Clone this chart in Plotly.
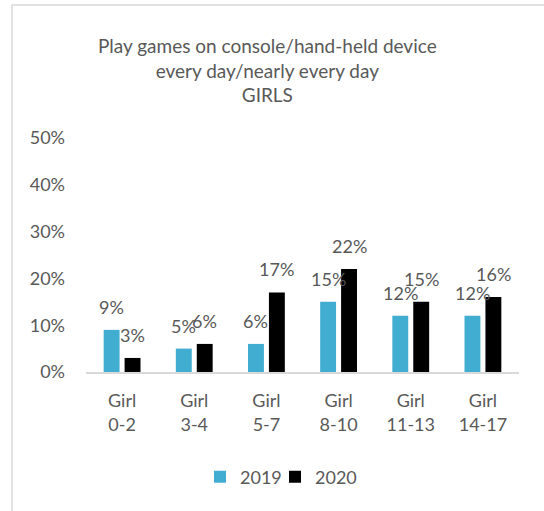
import plotly.graph_objects as go

# Daily/near-daily console gaming among girls, by age band
categories = ["Girl<br>0-2", "Girl<br>3-4", "Girl<br>5-7", "Girl<br>8-10", "Girl<br>11-13", "Girl<br>14-17"]
series_names = ["2019", "2020"]
values_2019 = [9, 5, 6, 15, 12, 12]
values_2020 = [3, 6, 17, 22, 15, 16]
y_ticks = [0, 10, 20, 30, 40, 50]
y_tick_labels = ["0%", "10%", "20%", "30%", "40%", "50%"]

W, H = 544, 511
ML, MR, MT, MB = 86, 25, 138, 139
PW, PH = W - ML - MR, H - MT - MB

FONT = "Lato, Carlito, Calibri, sans-serif"
GREY = "#595959"
colors = ["#41ADD0", "#000000"]
legend_ids = ["legend", "legend2"]
legend_left_px = [200, 275]

fig = go.Figure()
for name, vals, col, lg in zip(series_names, [values_2019, values_2020], colors, legend_ids):
    fig.add_trace(go.Bar(name=name, x=categories, y=vals, legend=lg,
                         marker=dict(color=col, line=dict(width=0))))

# value labels floating above each bar
bar_offset = 21
annotations = []
for i, vals in enumerate([values_2019, values_2020]):
    for c, v in zip(categories, vals):
        annotations.append(dict(
            x=c, y=v, xref="x", yref="y", text=f"{v}%", showarrow=False,
            xshift=(i - 0.5) * bar_offset, yshift=23, yanchor="middle",
            font=dict(family=FONT, size=18, color=GREY),
        ))

# three-line chart title, centred over the chart
annotations.append(dict(
    x=(267 - ML) / PW, y=((H - 70) - MB) / PH, xref="paper", yref="paper",
    xanchor="center", yanchor="middle", showarrow=False,
    text="Play games on console/hand-held device<br>every day/nearly every day<br>GIRLS",
    font=dict(family=FONT, size=19, color=GREY),
))

legend_style = dict(orientation="h", xanchor="left",
                    y=-(477 - (H - MB)) / PH, yanchor="middle",
                    font=dict(family=FONT, size=18, color=GREY),
                    itemsizing="constant", bgcolor="rgba(0,0,0,0)")

fig.update_layout(
    width=W, height=H,
    margin=dict(l=ML, r=MR, t=MT, b=MB, pad=0),
    paper_bgcolor="white", plot_bgcolor="white",
    barmode="group", bargap=0.42, bargroupgap=0.24,
    font=dict(family=FONT, size=18, color=GREY),
    showlegend=True,
    legend=dict(x=(legend_left_px[0] - ML) / PW, **legend_style),
    legend2=dict(x=(legend_left_px[1] - ML) / PW, **legend_style),
    annotations=annotations,
    xaxis=dict(showline=True, linecolor="#D9D9D9", linewidth=1.5, ticks="",
               tickfont=dict(family=FONT, size=18, color=GREY), ticklabelstandoff=12,
               fixedrange=True),
    yaxis=dict(range=[0, 50], tickmode="array", tickvals=y_ticks, ticktext=y_tick_labels,
               showgrid=False, zeroline=False, showline=False, ticks="",
               tickfont=dict(family=FONT, size=18, color=GREY), ticklabelstandoff=20,
               fixedrange=True),
    shapes=[dict(type="rect", xref="paper", yref="paper",
                 x0=(12 - ML) / PW, x1=(W + 5 - ML) / PW,
                 y0=-(H + 5 - (H - MB)) / PH, y1=(H - MB - 5) / PH,
                 line=dict(color="#D9D9D9", width=1.5), fillcolor="rgba(0,0,0,0)", layer="below")],
)

fig.write_html("out.html")
